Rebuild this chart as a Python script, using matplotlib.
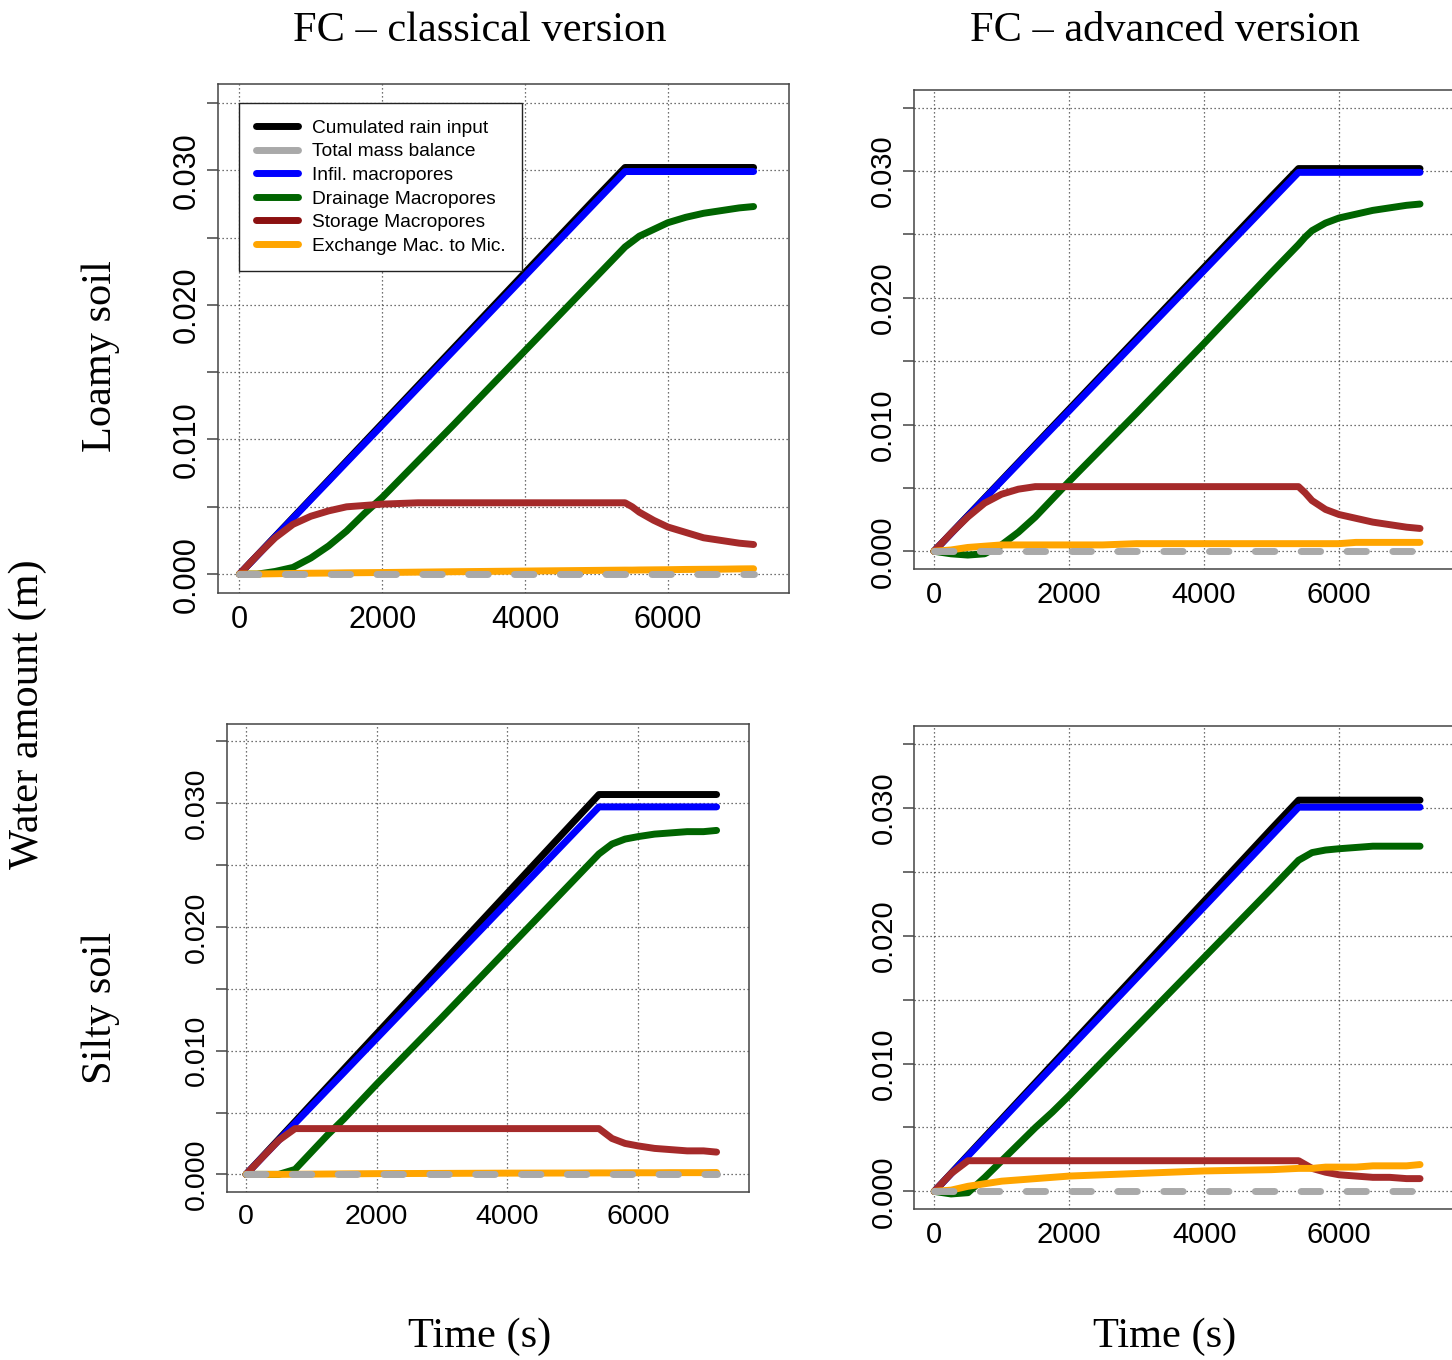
import matplotlib
matplotlib.use("Agg")
import matplotlib.pyplot as plt
from matplotlib.lines import Line2D

# simulation output times (s)
time_s = [0, 250, 500, 750, 1000, 1250, 1500, 1750, 2000, 2500, 3000, 4000, 5000,
          5400, 5500, 5600, 5800, 6000, 6250, 6500, 6750, 7000, 7200]

# total mass balance, identical for every run
balance = [0.0, 0.0, 0.0, 0.0, 0.0, 0.0, 0.0, 0.0, 0.0, 0.0, 0.0, 0.0, 0.0,
           0.0, 0.0, 0.0, 0.0, 0.0, 0.0, 0.0, 0.0, 0.0, 0.0]

# loamy soil, classical FC
rain_lc = [0, .0014, .0028, .0042, .0056, .0070, .0084, .0098, .0112, .0140, .0168, .0224, .0280,
           .0302, .0302, .0302, .0302, .0302, .0302, .0302, .0302, .0302, .0302]
infil_lc = [0, .00138, .00277, .00415, .00554, .00692, .00831, .00969, .01107, .01384, .01661, .02215, .02769,
            .0299, .0299, .0299, .0299, .0299, .0299, .0299, .0299, .0299, .0299]
drain_lc = [0, 0, .0002, .0005, .0012, .0021, .0032, .0045, .0057, .0084, .0111, .0166, .0221,
            .0243, .0247, .0251, .0256, .0261, .0265, .0268, .0270, .0272, .0273]
storage_lc = [0, .0014, .0027, .0037, .0043, .0047, .0050, .0051, .0052, .0053, .0053, .0053, .0053,
              .0053, .0050, .0046, .0040, .0035, .0031, .0027, .0025, .0023, .0022]
exch_lc = [0, .00001, .00003, .00005, .00007, .00008, .0001, .00011, .00012, .00015, .00018, .00023, .00028,
           .0003, .0003, .00031, .00032, .00033, .00035, .00036, .00037, .00039, .0004]

# loamy soil, advanced FC
rain_la = [0, .0014, .0028, .0042, .0056, .0070, .0084, .0098, .0112, .0140, .0168, .0224, .0280,
           .0302, .0302, .0302, .0302, .0302, .0302, .0302, .0302, .0302, .0302]
infil_la = [0, .00138, .00277, .00415, .00554, .00692, .00831, .00969, .01107, .01384, .01661, .02215, .02769,
            .0299, .0299, .0299, .0299, .0299, .0299, .0299, .0299, .0299, .0299]
drain_la = [0, -.0002, -.0003, -.0002, .0005, .0015, .0027, .0041, .0055, .0082, .0109, .0164, .0220,
            .0242, .0248, .0253, .0259, .0263, .0266, .0269, .0271, .0273, .0274]
storage_la = [0, .0014, .0027, .0038, .0045, .0049, .0051, .0051, .0051, .0051, .0051, .0051, .0051,
              .0051, .0046, .0040, .0033, .0029, .0026, .0023, .0021, .0019, .0018]
exch_la = [0, .0001, .0003, .0004, .0005, .0005, .0005, .0005, .0005, .0005, .0006, .0006, .0006,
           .0006, .0006, .0006, .0006, .0006, .0007, .0007, .0007, .0007, .0007]

# silty soil, classical FC
rain_sc = [0, .00142, .00284, .00426, .00569, .00711, .00853, .00995, .01137, .01421, .01706, .02274, .02843,
           .0307, .0307, .0307, .0307, .0307, .0307, .0307, .0307, .0307, .0307]
infil_sc = [0, .00138, .00275, .00413, .0055, .00688, .00825, .00963, .011, .01375, .0165, .022, .0275,
            .0297, .0297, .0297, .0297, .0297, .0297, .0297, .0297, .0297, .0297]
drain_sc = [0, 0, 0, .0004, .0018, .0032, .0045, .0059, .0073, .0100, .0127, .0182, .0237,
            .0259, .0263, .0267, .0271, .0273, .0275, .0276, .0277, .0277, .0278]
storage_sc = [0, .00138, .00275, .0037, .0037, .0037, .0037, .0037, .0037, .0037, .0037, .0037, .0037,
              .0037, .0033, .0029, .0025, .0023, .0021, .0020, .0019, .0019, .0018]
exch_sc = [0, 0, 0, .00001, .00002, .00003, .00004, .00005, .00006, .00007, .00008, .0001, .00011,
           .00012, .00012, .00012, .00013, .00013, .00013, .00014, .00014, .00014, .00015]

# silty soil, advanced FC
rain_sa = [0, .00142, .00284, .00426, .00567, .00709, .00851, .00993, .01135, .01419, .01702, .0227, .02837,
           .0306, .0306, .0306, .0306, .0306, .0306, .0306, .0306, .0306, .0306]
infil_sa = [0, .00139, .00278, .00417, .00556, .00696, .00835, .00974, .01113, .01391, .0167, .02226, .02782,
            .03005, .03005, .03005, .03005, .03005, .03005, .03005, .03005, .03005, .03005]
drain_sa = [0, -.0002, -.0001, .0011, .0024, .0037, .0050, .0062, .0075, .0102, .0129, .0183, .0237,
            .0259, .0262, .0265, .0267, .0268, .0269, .0270, .0270, .0270, .0270]
storage_sa = [0, .0014, .0024, .0024, .0024, .0024, .0024, .0024, .0024, .0024, .0024, .0024, .0024,
              .0024, .0021, .0018, .0015, .0013, .0012, .0011, .0011, .0010, .0010]
exch_sa = [0, .0001, .0004, .0006, .0008, .0009, .0010, .0011, .0012, .0013, .0014, .0016, .0017,
           .0018, .0018, .0018, .0019, .0019, .0019, .0020, .0020, .0020, .0021]

series_names = ["Cumulated rain input", "Total mass balance", "Infil. macropores",
                "Drainage Macropores", "Storage Macropores", "Exchange Mac. to Mic."]
xticks = [0, 2000, 4000, 6000]
xticklabels = ["0", "2000", "4000", "6000"]
yticks = [0.0, 0.005, 0.010, 0.015, 0.020, 0.025, 0.030, 0.035]
yticklabels = ["0.000", "", "0.010", "", "0.020", "", "0.030", ""]

col_rain = "black"
col_bal = "#a9a9a9"
col_inf = "#0000ff"
col_drain = "#006400"
col_stor = "#a52a2a"
col_exch = "#ffa500"

W, H = 1452, 1360
SANS = "Liberation Sans"
SERIF = "Liberation Serif"
LW = 5


def box(left, top, right, bottom):
    return [left / W, 1 - bottom / H, (right - left) / W, (bottom - top) / H]


def panel(ax, rain, infil, drain, storage, exch, fs):
    ax.set_xlim(-296, 7696)
    ax.set_ylim(-0.0014, 0.0364)
    ax.set_xticks(xticks, labels=xticklabels)
    ax.set_yticks(yticks, labels=yticklabels)
    ax.grid(True, color="#444444", linestyle=(0, (1, 2.2)), linewidth=0.9, zorder=0)
    ax.set_axisbelow(True)
    for s in ax.spines.values():
        s.set_color("#444444")
        s.set_linewidth(1.1)
    ax.tick_params(axis="x", length=0, pad=8.5, labelsize=fs)
    ax.tick_params(axis="y", length=8, width=1.1, color="#444444", pad=4,
                   labelsize=fs, labelrotation=90)
    for lab in ax.get_xticklabels() + ax.get_yticklabels():
        lab.set_fontfamily(SANS)
    for lab in ax.get_yticklabels():
        lab.set_va("center")

    kw = dict(lw=LW, solid_capstyle="round", solid_joinstyle="round", zorder=3)
    ax.plot(time_s, rain, color=col_rain, **kw)
    ax.plot(time_s, infil, color=col_inf, **kw)
    ax.plot(time_s, drain, color=col_drain, **kw)
    ax.plot(time_s, storage, color=col_stor, **kw)
    ax.plot(time_s, exch, color=col_exch, **kw)
    ax.plot(time_s, balance, color=col_bal, lw=LW, dashes=(2.8, 3.8),
            dash_capstyle="round", zorder=4)


fig = plt.figure(figsize=(W / 100, H / 100), dpi=100)

ax_lc = fig.add_axes(box(218.3, 84, 789, 593))
ax_la = fig.add_axes(box(914, 90, 1453.5, 569))
ax_sc = fig.add_axes(box(226.7, 724, 749, 1191.7))
ax_sa = fig.add_axes(box(914.3, 726, 1453.5, 1209.3))

panel(ax_lc, rain_lc, infil_lc, drain_lc, storage_lc, exch_lc, 22)
panel(ax_la, rain_la, infil_la, drain_la, storage_la, exch_la, 21)
panel(ax_sc, rain_sc, infil_sc, drain_sc, storage_sc, exch_sc, 20.5)
panel(ax_sa, rain_sa, infil_sa, drain_sa, storage_sa, exch_sa, 21)

handle_cols = [col_rain, col_bal, col_inf, col_drain, "#8b1010", col_exch]
handles = [Line2D([], [], color=c, lw=LW, solid_capstyle="round") for c in handle_cols]
leg = ax_lc.legend(handles, series_names, loc="upper left",
                   bbox_to_anchor=(21 / 570.7, 1 - 19 / 509), borderaxespad=0,
                   prop={"family": SANS, "size": 13.8}, handlelength=2.2,
                   handletextpad=0.72, labelspacing=0.32, borderpad=0.86,
                   fancybox=False, framealpha=1, edgecolor="#222222")
leg.get_frame().set_linewidth(1.0)
leg.set_zorder(5)

tkw = dict(family=SERIF, fontsize=30.5, ha="center", va="center")
fig.text(480 / W, 1 - 31 / H, "FC \u2013 classical version", **tkw)
fig.text(1165 / W, 1 - 31 / H, "FC \u2013 advanced version", **tkw)
fig.text(480 / W, 1 - 1337 / H, "Time (s)", **tkw)
fig.text(1165 / W, 1 - 1337 / H, "Time (s)", **tkw)
fig.text(101 / W, 1 - 356 / H, "Loamy soil", rotation=90, **tkw)
fig.text(101 / W, 1 - 1008 / H, "Silty soil", rotation=90, **tkw)
fig.text(28 / W, 1 - 714 / H, "Water amount (m)", rotation=90, **tkw)

fig.savefig("out.png", dpi=100)
